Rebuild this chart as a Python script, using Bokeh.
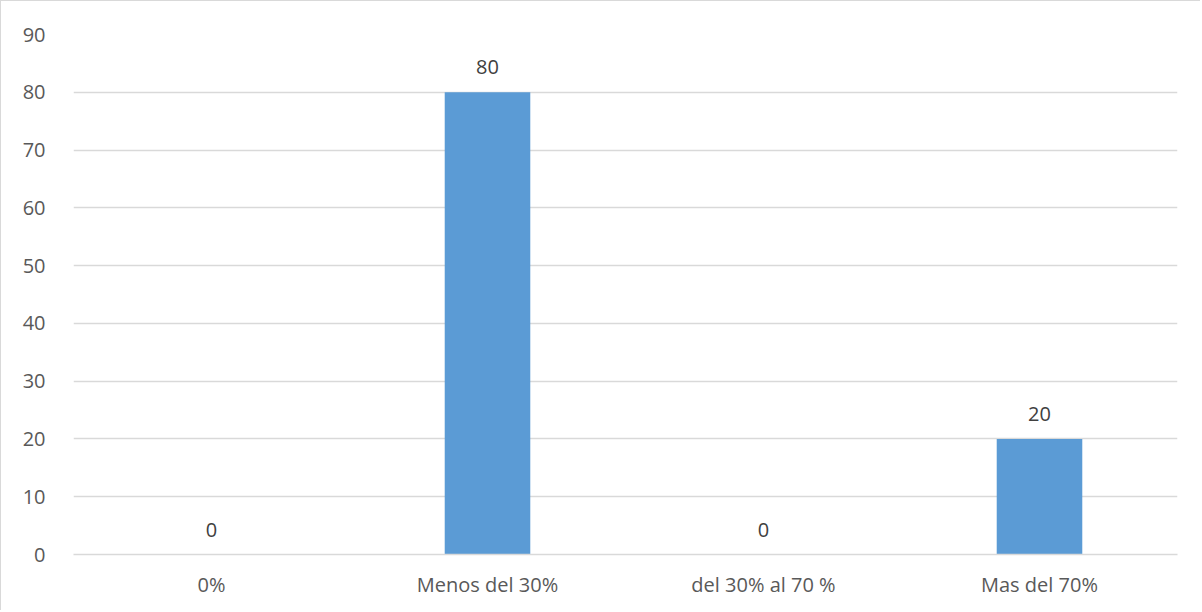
from bokeh.plotting import figure
from bokeh.models import ColumnDataSource, FactorRange, Range1d, LabelSet, FixedTicker
from bokeh.core.properties import value
from bokeh.embed import file_html
from bokeh.resources import INLINE

categories = ["0%", "Menos del 30%", "del 30% al 70 %", "Mas del 70%"]
values = [0, 80, 0, 20]
y_ticks = [0, 10, 20, 30, 40, 50, 60, 70, 80, 90]

src = ColumnDataSource(dict(cat=categories, val=values, lbl=[str(v) for v in values]))

p = figure(x_range=FactorRange(*categories), y_range=Range1d(0, 90),
           width=1200, height=610, output_backend="svg", toolbar_location=None,
           min_border_left=72, min_border_right=24, min_border_top=33, min_border_bottom=57)
p.styles = {"border-left": "1px solid #d9d9d9", "border-top": "1px solid #d9d9d9"}

p.vbar(x="cat", top="val", width=0.31, source=src, color="#5b9bd5", line_color=None)

labels = LabelSet(x="cat", y="val", text="lbl", source=src, text_align="center",
                  text_baseline="bottom", y_offset=18, text_color="#404040",
                  text_font=value("Open Sans"), text_font_size="20px")
p.add_layout(labels)

p.outline_line_color = None
p.xgrid.grid_line_color = None
p.ygrid.grid_line_color = "#d9d9d9"
p.ygrid.grid_line_width = 1.5
p.yaxis.ticker = FixedTicker(ticks=y_ticks)

for ax in (p.xaxis, p.yaxis):
    ax.major_tick_line_color = None
    ax.minor_tick_line_color = None
    ax.major_label_text_color = "#595959"
    ax.major_label_text_font = "Open Sans"
    ax.major_label_text_font_size = "20px"
p.yaxis.axis_line_color = None
p.yaxis.major_label_standoff = 22
p.xaxis.axis_line_color = "#d9d9d9"
p.xaxis.axis_line_width = 1.5
p.xaxis.major_label_standoff = 10
p.x_range.range_padding = 0
p.x_range.group_padding = 0

open("out.html", "w").write(file_html(p, INLINE))
